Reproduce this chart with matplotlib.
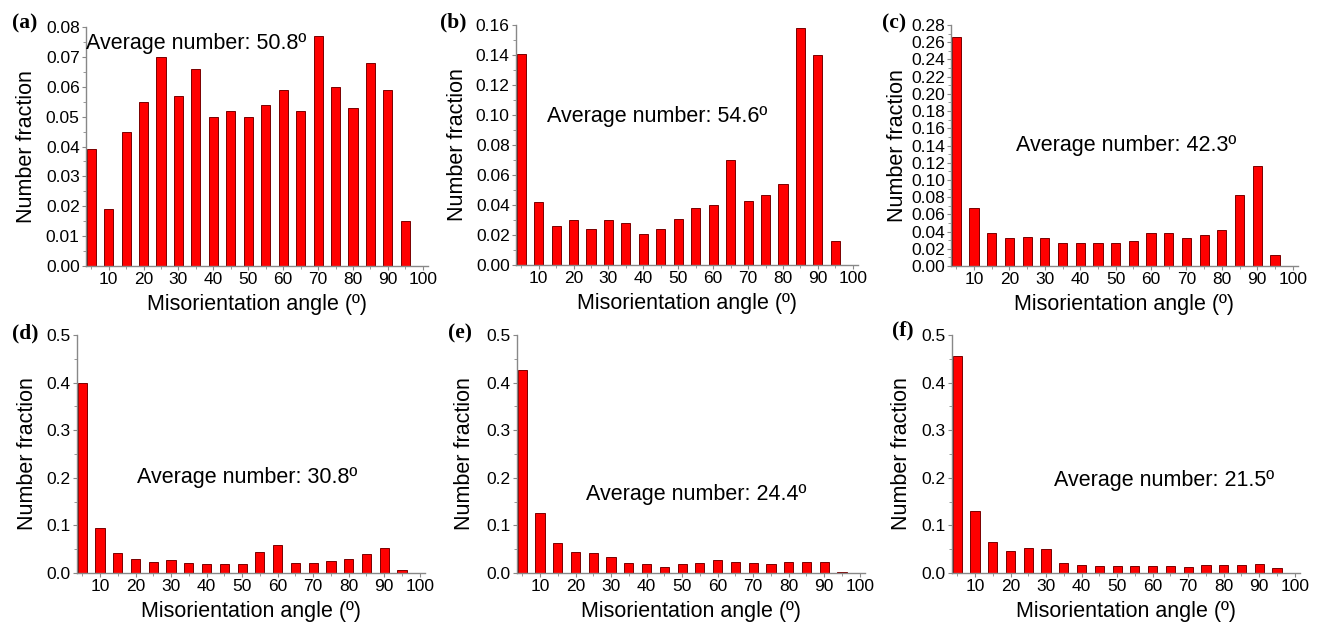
import matplotlib as mpl
mpl.use('Agg')
import matplotlib.pyplot as plt
import numpy as np
from matplotlib.ticker import MultipleLocator, FormatStrFormatter

plt.rcParams['font.family'] = ['Liberation Sans', 'DejaVu Sans']

# bin centres (degrees)
angles = [5, 10, 15, 20, 25, 30, 35, 40, 45, 50, 55, 60, 65, 70, 75, 80, 85, 90, 95]

frac_a = [0.039, 0.019, 0.045, 0.055, 0.070, 0.057, 0.066, 0.050, 0.052, 0.050,
          0.054, 0.059, 0.052, 0.077, 0.060, 0.053, 0.068, 0.059, 0.015]
frac_b = [0.141, 0.042, 0.026, 0.030, 0.024, 0.030, 0.028, 0.021, 0.024, 0.031,
          0.038, 0.040, 0.070, 0.043, 0.047, 0.054, 0.158, 0.140, 0.016]
frac_c = [0.266, 0.067, 0.038, 0.032, 0.034, 0.033, 0.027, 0.027, 0.027, 0.027,
          0.029, 0.038, 0.038, 0.033, 0.036, 0.042, 0.082, 0.116, 0.013]
frac_d = [0.400, 0.095, 0.042, 0.029, 0.024, 0.027, 0.022, 0.019, 0.019, 0.019,
          0.045, 0.058, 0.022, 0.020, 0.025, 0.029, 0.039, 0.053, 0.006]
frac_e = [0.426, 0.127, 0.064, 0.045, 0.041, 0.034, 0.022, 0.018, 0.013, 0.018,
          0.020, 0.027, 0.023, 0.022, 0.019, 0.023, 0.023, 0.024, 0.003]
frac_f = [0.455, 0.130, 0.066, 0.047, 0.052, 0.050, 0.020, 0.016, 0.014, 0.014,
          0.014, 0.014, 0.014, 0.013, 0.017, 0.017, 0.017, 0.019, 0.011]

panel_letters = ['(a)', '(b)', '(c)', '(d)', '(e)', '(f)']
averages = ['50.8', '54.6', '42.3', '30.8', '24.4', '21.5']
y_max = [0.08, 0.16, 0.28, 0.5, 0.5, 0.5]
y_major = [0.01, 0.02, 0.02, 0.1, 0.1, 0.1]
y_fmt = ['%.2f', '%.2f', '%.2f', '%.1f', '%.1f', '%.1f']

W, H = 1324, 627
fig = plt.figure(figsize=(W / 100, H / 100), dpi=100)

# axes boxes in pixels: left, top, right, bottom
boxes = [(86, 27, 428, 266), (516, 25, 858, 265), (951, 25, 1298, 266),
         (77, 335, 425, 573), (517, 335, 865, 573), (952, 335, 1300, 573)]
# average text (left x frac, centre y frac)
txt_pos = [(0.0, 0.933), (0.09, 0.62), (0.187, 0.50),
           (0.172, 0.40), (0.198, 0.33), (0.293, 0.387)]
# panel letter positions in pixels
lab_pos = [(12, 23), (440, 22), (882, 23), (12, 333), (448, 333), (892, 330)]
# right edge of the rotated y label, pixels
ylab_x = [37, 468, 908, 38, 475, 912]

all_frac = [frac_a, frac_b, frac_c, frac_d, frac_e, frac_f]
spine_col = '#888888'

for i in range(6):
    l, t, r, b = boxes[i]
    ax = fig.add_axes([l / W, 1 - b / H, (r - l) / W, (b - t) / H])
    ax.bar(angles, all_frac[i], width=2.6, color='#ff0000',
           edgecolor='#7a0000', linewidth=0.7)
    ax.set_xlim(3.5, 101.5)
    ax.set_ylim(0, y_max[i])
    ax.set_xticks(range(10, 101, 10))
    ax.xaxis.set_minor_locator(MultipleLocator(5))
    ax.yaxis.set_major_locator(MultipleLocator(y_major[i]))
    ax.yaxis.set_minor_locator(MultipleLocator(y_major[i] / 2))
    ax.yaxis.set_major_formatter(FormatStrFormatter(y_fmt[i]))
    for s in ['top', 'right']:
        ax.spines[s].set_visible(False)
    for s in ['left', 'bottom']:
        ax.spines[s].set_color(spine_col)
        ax.spines[s].set_linewidth(1.0)
    ax.tick_params(which='major', length=3, width=0.8, color=spine_col,
                   labelsize=12.5, pad=1.5)
    ax.tick_params(which='minor', length=2, width=0.6, color=spine_col)
    ax.set_xlabel('Misorientation angle (º)', fontsize=15.5, labelpad=5)
    ax.set_ylabel('Number fraction', fontsize=15.5)
    ax.yaxis.set_label_coords((ylab_x[i] - l) / (r - l), 0.5)
    ax.text(txt_pos[i][0], txt_pos[i][1], 'Average number: ' + averages[i] + 'º',
            transform=ax.transAxes, fontsize=15.5, ha='left', va='center')
    fig.text(lab_pos[i][0] / W, 1 - lab_pos[i][1] / H, panel_letters[i],
             family='Liberation Serif', fontweight='bold', fontsize=15.5,
             ha='left', va='center')

plt.savefig('out.png', dpi=100)
